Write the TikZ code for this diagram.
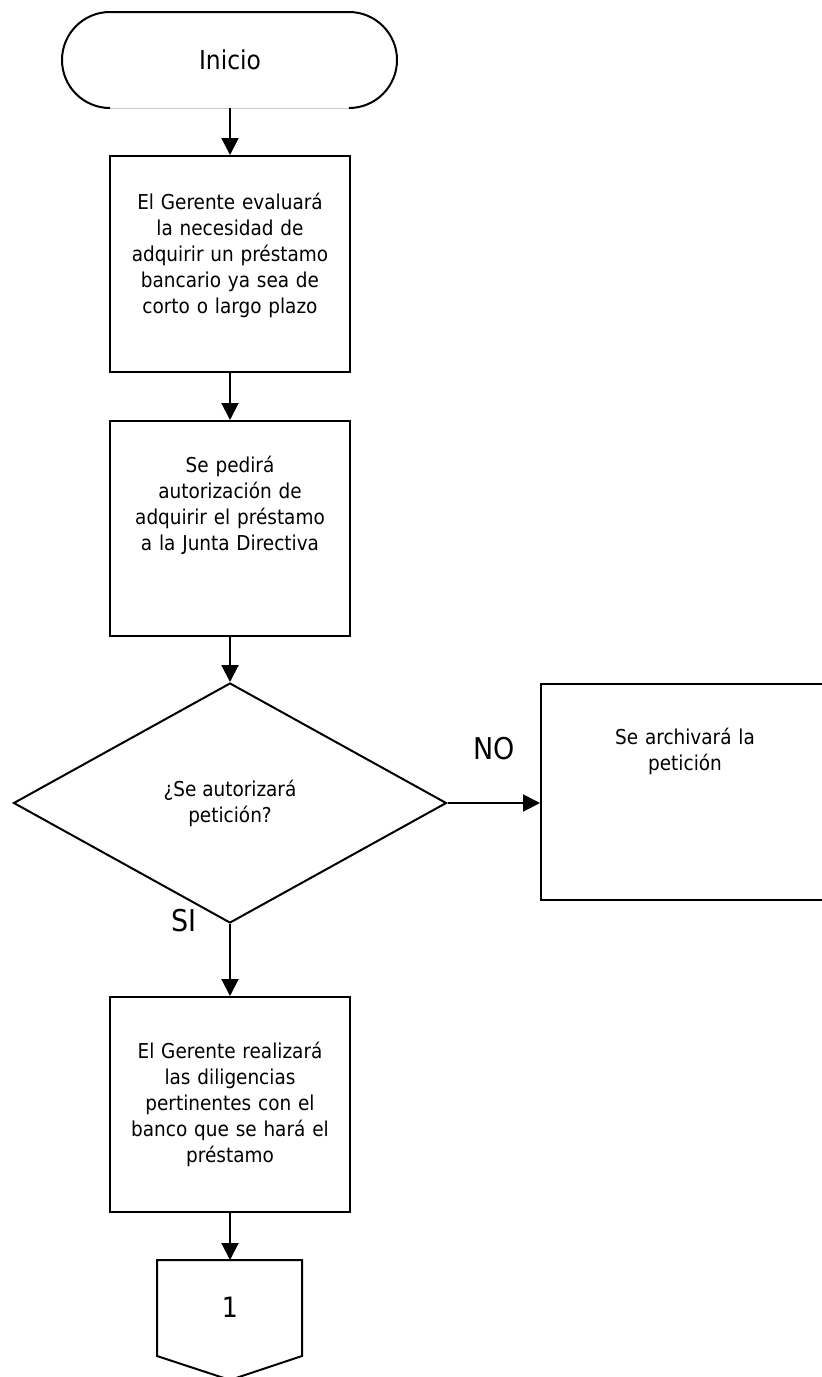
\documentclass[tikz,border=0pt]{standalone}
\usepackage{fontspec}
\setmainfont{DejaVu Sans Condensed}
\usetikzlibrary{shapes.geometric,arrows.meta}

\newcommand{\txtsize}{\fontsize{20.5}{26}\selectfont}

\tikzset{
	proc/.style={draw, line width=2pt, minimum width=240pt, minimum height=216pt, text width=236pt, align=center, inner sep=0pt, font=\txtsize},
	decision/.style={draw, diamond, line width=2pt, minimum width=433pt, minimum height=240pt, inner sep=0pt, align=center, font=\txtsize},
	flujo/.style={line width=2pt, -{Triangle[width=17pt,length=17pt]}},
	etiqueta/.style={font=\fontsize{30}{30}\selectfont, inner sep=0pt}
}

\begin{document}
\begin{tikzpicture}[x=1pt, y=-1pt]
\clip (0,0) rectangle (822,1377);

\pgfmathsetmacro{\colx}{230}
\pgfmathsetmacro{\rad}{48}

\node[minimum width=335pt, minimum height=96pt, inner sep=0pt, font=\fontsize{26}{30}\selectfont] (inicio) at (\colx,60) {Inicio};
\draw[line width=2pt] (110,108) arc[start angle=90, end angle=270, radius=\rad] -- (349,12) arc[start angle=-90, end angle=90, radius=\rad];
\draw[line width=0.8pt, black!20] (110,108) -- (349,108);

\node[proc, text depth=125pt] (evaluar) at (\colx,264) {El Gerente evaluará\\la necesidad de\\adquirir un préstamo\\bancario ya sea de\\corto o largo plazo};

\node[proc, minimum height=215pt, text depth=128pt] (pedir) at (\colx,528.5) {Se pedirá\\autorización de\\adquirir el préstamo\\a la Junta Directiva};

\node[decision] (autoriza) at (\colx,803) {¿Se autorizará\\petición?};

\node[proc, minimum width=288pt, text depth=112pt] (archivar) at (685,792) {Se archivará la\\petición};

\node[proc, minimum height=215pt] (diligencias) at (\colx,1104.5) {El Gerente realizará\\las diligencias\\pertinentes con el\\banco que se hará el\\préstamo};

\node[font=\fontsize{28}{30}\selectfont, inner sep=0pt] (uno) at (\colx,1307) {1};
\coordinate (conector) at (\colx,1260);
\draw[line width=2pt] (157,1260) -- (302,1260) -- (302,1356) -- (\colx,1380) -- (157,1356) -- cycle;

\node[etiqueta] (no) at (494,749) {NO};
\node[etiqueta] (si) at (184,921) {SI};

\draw[flujo] (inicio.south) -- (evaluar.north);
\draw[flujo] (evaluar.south) -- (pedir.north);
\draw[flujo] (pedir.south) -- (autoriza.north);
\draw[flujo] (autoriza.east) -- (autoriza.east -| archivar.west);
\draw[flujo] (autoriza.south) -- (diligencias.north);
\draw[flujo] (diligencias.south) -- (conector);
\end{tikzpicture}
\end{document}
